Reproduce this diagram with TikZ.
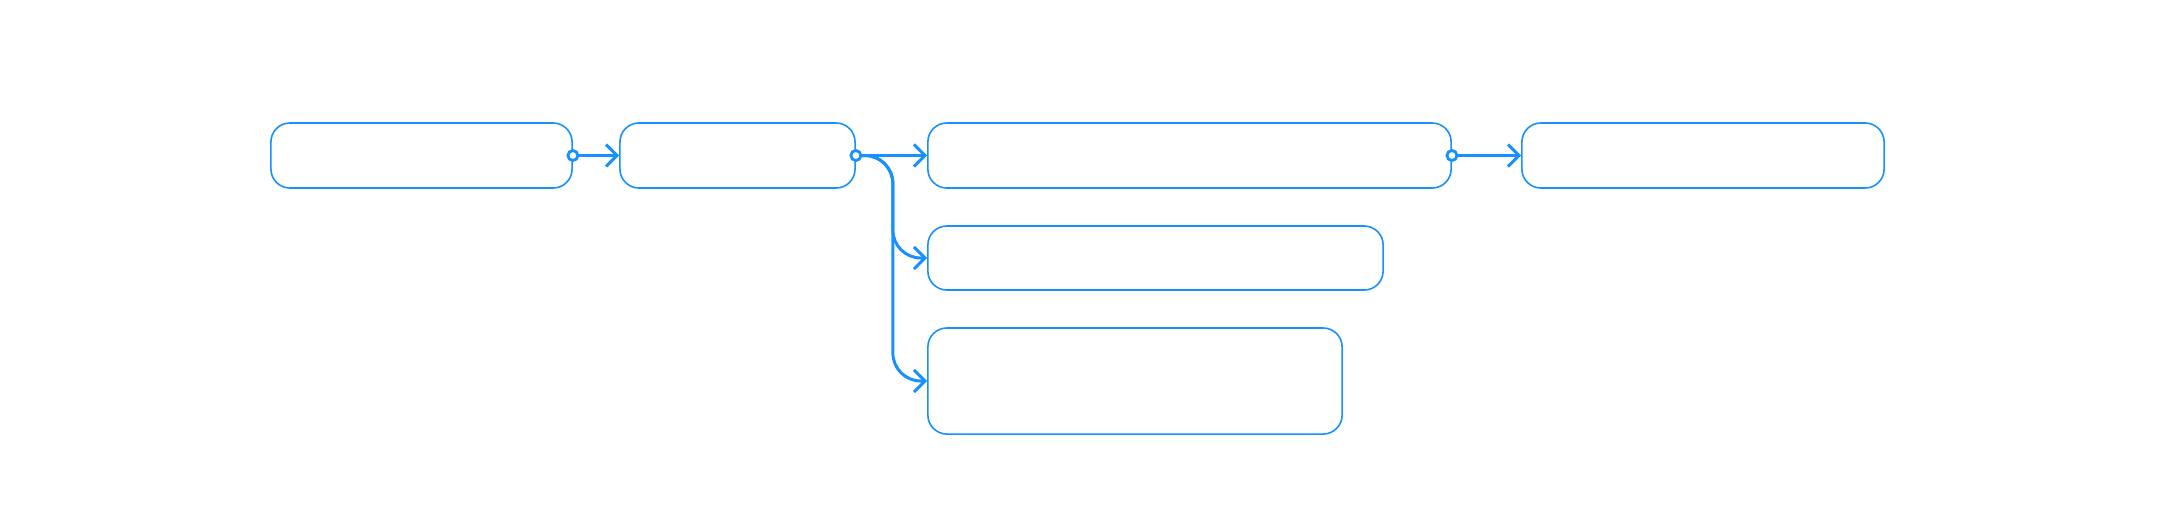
\documentclass[tikz,border=0pt]{standalone}
\usepackage{tikz}
\usetikzlibrary{arrows.meta}
\definecolor{flowblue}{RGB}{24,144,255}
\tikzset{
	box/.style={draw=flowblue, line width=0.45pt, rounded corners=0.19cm, fill=white, inner sep=0pt},
	link/.style={draw=flowblue, line width=0.85pt, -{Straight Barb[length=1.1mm, width=2.2mm, line width=0.85pt]}},
	port/.style={circle, draw=flowblue, line width=0.8pt, fill=white, inner sep=0pt, minimum size=0.1cm}
}
\begin{document}
\begin{tikzpicture}[x=0.01cm, y=-0.01cm]
		%%%%% START %%%%%
		
		\useasboundingbox (0, 0) rectangle (2160, 520);
		
		\node[box, minimum width=3.01cm, minimum height=0.65cm] (b1) at (421.5, 155.5) {};
		\node[box, minimum width=2.35cm, minimum height=0.65cm] (b2) at (737.5, 155.5) {};
		\node[box, minimum width=5.23cm, minimum height=0.65cm] (b3) at (1189.5, 155.5) {};
		\node[box, minimum width=3.62cm, minimum height=0.65cm] (b4) at (1703, 155.5) {};
		\node[box, minimum width=4.55cm, minimum height=0.64cm] (b5) at (1155.5, 258) {};
		\node[box, minimum width=4.14cm, minimum height=1.06cm] (b6) at (1135, 381) {};
		
		\coordinate (p1) at (b1.east);
		\coordinate (p2) at (b2.east);
		\coordinate (p3) at (b3.east);
		
		\draw[link] (p1) -- (b2.west);
		\draw[link] (p2) -- (b3.west);
		\draw[link, rounded corners=0.28cm] (p2) -- ++(37, 0) |- (b5.west);
		\draw[link, rounded corners=0.28cm] (p2) -- ++(37, 0) |- (b6.west);
		\draw[link] (p3) -- (b4.west);
		
		\node[port] (c1) at (p1) {};
		\node[port] (c2) at (p2) {};
		\node[port] (c3) at (p3) {};
		
		%%%%% END %%%%%
	\end{tikzpicture}
\end{document}
